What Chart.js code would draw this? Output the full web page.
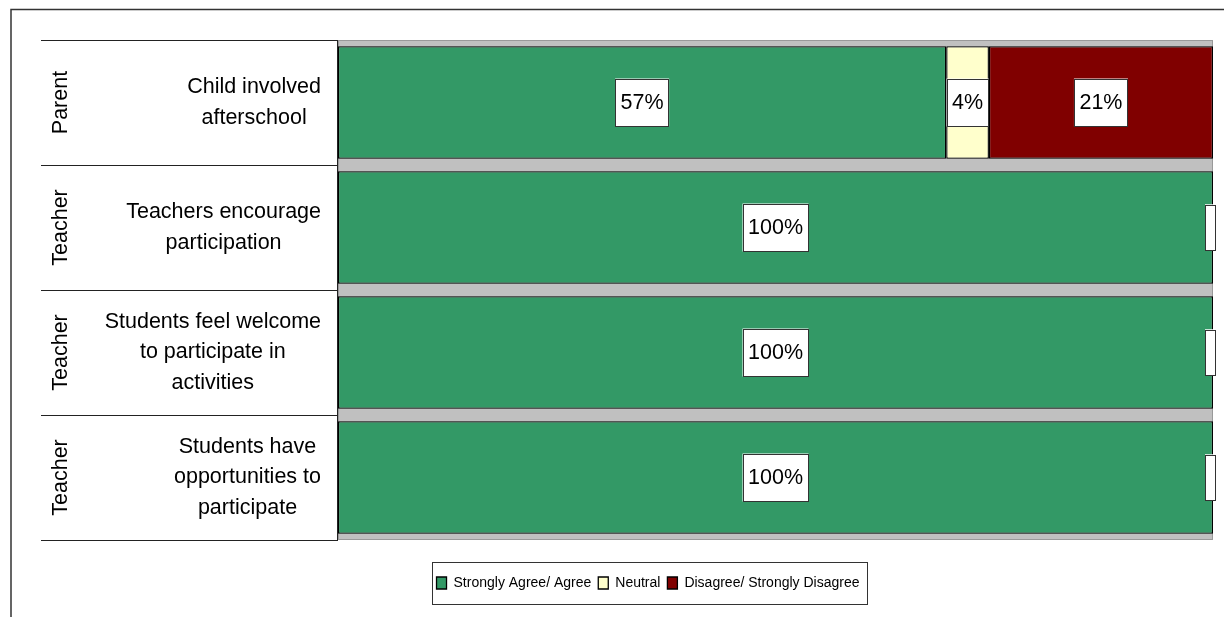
<!DOCTYPE html>
<html><head><meta charset="utf-8">
<script src="https://cdn.jsdelivr.net/npm/chart.js@4.4.1/dist/chart.umd.min.js"></script>
<style>html,body{margin:0;padding:0;background:#fff;}#wrap{width:1224px;height:617px;}</style>
</head><body><div id="wrap"><canvas id="c" width="1224" height="617"></canvas></div>
<script>
const groups = ['Parent', 'Teacher', 'Teacher', 'Teacher'];
const categories = [
  ['Child involved', 'afterschool'],
  ['Teachers encourage', 'participation'],
  ['Students feel welcome', 'to participate in', 'activities'],
  ['Students have', 'opportunities to', 'participate']
];
const seriesNames = ['Strongly Agree/ Agree', 'Neutral', 'Disagree/ Strongly Disagree'];
const agree = [57, 100, 100, 100];
const neutral = [4, 0, 0, 0];
const disagree = [21, 0, 0, 0];
const colors = ['#339966', '#FFFFCC', '#800000'];

const FONT = "'Liberation Sans', Arial, sans-serif";
const series = [agree, neutral, disagree];
const totals = agree.map((v, i) => v + neutral[i] + disagree[i]);

function hasFont(name) {
  const c = document.createElement('canvas').getContext('2d');
  c.font = '40px monospace';
  const base = c.measureText('Strongly Agree').width;
  c.font = "40px '" + name + "', monospace";
  return c.measureText('Strongly Agree').width !== base;
}
const narrow = hasFont('Liberation Sans Narrow');
const legendFont = narrow ? { size: 17, family: "'Liberation Sans Narrow', " + FONT } : { size: 14, family: FONT };
const bottomPad = narrow ? 14 : 17;

const frame = {
  id: 'frame',
  beforeDraw(chart) {
    const ctx = chart.ctx, a = chart.chartArea;
    ctx.save();
    ctx.fillStyle = '#fff';
    ctx.fillRect(0, 0, chart.width, chart.height);
    ctx.strokeStyle = '#333'; ctx.lineWidth = 1.5;
    ctx.beginPath();
    ctx.moveTo(11, chart.height + 2); ctx.lineTo(11, 9.5); ctx.lineTo(chart.width + 2, 9.5);
    ctx.stroke();
    ctx.fillStyle = '#C0C0C0';
    ctx.fillRect(a.left, a.top, a.width, a.height);
    ctx.strokeStyle = '#999'; ctx.lineWidth = 1;
    ctx.strokeRect(a.left + 0.5, a.top + 0.5, a.width - 1, a.height - 1);
    ctx.restore();
  }
};

const ylabels = {
  id: 'ylabels',
  afterDraw(chart) {
    const ctx = chart.ctx, a = chart.chartArea, ys = chart.scales.y;
    const n = categories.length;
    ctx.save();
    ctx.strokeStyle = '#222'; ctx.lineWidth = 1;
    ctx.beginPath();
    for (let i = 0; i <= n; i++) {
      let y;
      if (i === 0) y = a.top;
      else if (i === n) y = a.bottom;
      else y = (ys.getPixelForValue(i - 1) + ys.getPixelForValue(i)) / 2;
      const yy = Math.round(y) + 0.5;
      ctx.moveTo(41, yy); ctx.lineTo(a.left, yy);
    }
    ctx.moveTo(a.left - 0.5, a.top); ctx.lineTo(a.left - 0.5, a.bottom);
    ctx.stroke();
    ctx.fillStyle = '#000';
    ctx.font = '21.5px ' + FONT;
    ctx.textBaseline = 'middle';
    for (let i = 0; i < n; i++) {
      const cy = ys.getPixelForValue(i);
      ctx.save();
      ctx.translate(61, cy); ctx.rotate(-Math.PI / 2);
      ctx.textAlign = 'center';
      ctx.fillText(groups[i], 0, 0);
      ctx.restore();
      const lines = categories[i];
      const w = Math.max(...lines.map(l => ctx.measureText(l).width));
      const cx = 321 - w / 2;
      ctx.textAlign = 'center';
      const lh = 30.5;
      lines.forEach((l, j) => ctx.fillText(l, cx, cy + (j - (lines.length - 1) / 2) * lh));
    }
    ctx.restore();
  }
};

const dlabels = {
  id: 'dlabels',
  afterDatasetsDraw(chart) {
    const ctx = chart.ctx, a = chart.chartArea;
    ctx.save();
    ctx.font = '21.5px ' + FONT;
    ctx.textAlign = 'center'; ctx.textBaseline = 'middle';
    chart.data.datasets.forEach((ds, di) => {
      const meta = chart.getDatasetMeta(di);
      meta.data.forEach((el, i) => {
        const raw = series[di][i];
        const txt = raw > 0 ? raw + '%' : '';
        const tw = txt ? ctx.measureText(txt).width : 0;
        const bw = tw + 11, bh = txt ? 48 : 46;
        const cx = (el.x + el.base) / 2;
        let left = cx - bw / 2;
        if (left + bw > a.right + 3) left = a.right + 3 - bw;
        const top = el.y - bh / 2;
        ctx.fillStyle = '#fff';
        ctx.fillRect(left, top, bw, bh);
        ctx.strokeStyle = '#333'; ctx.lineWidth = 1;
        ctx.strokeRect(Math.round(left) + 0.5, Math.round(top) + 0.5, Math.round(bw) - 1, Math.round(bh) - 1);
        if (txt) { ctx.fillStyle = '#000'; ctx.fillText(txt, left + bw / 2, el.y + 1); }
      });
    });
    ctx.restore();
  }
};

const legendBox = {
  id: 'legendBox',
  afterDraw(chart) {
    const lg = chart.legend;
    if (!lg || !lg.legendHitBoxes || !lg.legendHitBoxes.length) return;
    const hb = lg.legendHitBoxes, ctx = chart.ctx;
    const l = Math.min(...hb.map(h => h.left)), r = Math.max(...hb.map(h => h.left + h.width));
    const t = Math.min(...hb.map(h => h.top)), b = Math.max(...hb.map(h => h.top + h.height));
    const mid = (t + b) / 2;
    ctx.save();
    ctx.strokeStyle = '#333'; ctx.lineWidth = 1;
    ctx.strokeRect(Math.round(l - 5) + 0.5, Math.round(mid - 21) + 0.5, Math.round(r - l + 12), 42);
    ctx.restore();
  }
};

new Chart(document.getElementById('c'), {
  type: 'bar',
  data: {
    labels: categories.map(c => c.join(' ')),
    datasets: series.map((s, di) => ({
      label: seriesNames[di],
      data: s.map((v, i) => v / totals[i] * 100),
      backgroundColor: colors[di],
      borderColor: '#000',
      borderWidth: 1.3,
      borderSkipped: false,
      barPercentage: 0.9,
      categoryPercentage: 1
    }))
  },
  options: {
    responsive: false,
    animation: false,
    devicePixelRatio: 1,
    indexAxis: 'y',
    layout: { padding: { top: 40, left: 83, right: 11, bottom: bottomPad } },
    scales: {
      x: {
        stacked: true, min: 0, max: 100,
        ticks: { display: false },
        grid: { display: false, drawTicks: false },
        border: { display: false },
        afterFit(s) { s.height = 29; }
      },
      y: {
        stacked: true,
        ticks: { display: false },
        grid: { display: false, drawTicks: false },
        border: { display: false },
        afterFit(s) { s.width = 255; }
      }
    },
    plugins: {
      legend: {
        position: 'bottom',
        labels: { boxWidth: 10, boxHeight: 12, padding: 7, color: '#000', font: legendFont }
      },
      tooltip: { enabled: false }
    }
  },
  plugins: [frame, ylabels, dlabels, legendBox]
});
</script></body></html>
